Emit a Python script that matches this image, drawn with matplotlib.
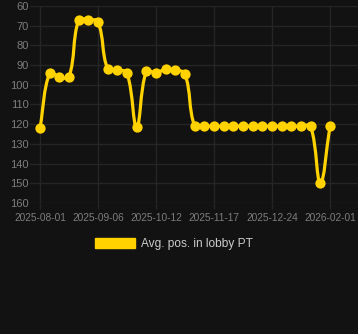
import numpy as np
import matplotlib
matplotlib.use("Agg")
import matplotlib.pyplot as plt
from matplotlib.path import Path
from matplotlib.patches import PathPatch, Patch

# ---- data ----
dates = ["2025-08-01", "2025-08-07", "2025-08-13", "2025-08-19", "2025-08-25", "2025-08-31",
         "2025-09-06", "2025-09-12", "2025-09-18", "2025-09-24", "2025-09-30", "2025-10-06",
         "2025-10-12", "2025-10-18", "2025-10-24", "2025-10-30", "2025-11-05", "2025-11-11",
         "2025-11-17", "2025-11-23", "2025-11-29", "2025-12-06", "2025-12-12", "2025-12-18",
         "2025-12-24", "2025-12-31", "2026-01-07", "2026-01-13", "2026-01-19", "2026-01-25",
         "2026-02-01"]
positions = [122, 94, 96, 96, 67, 67, 68, 92, 92.5, 94, 121.5, 93, 94, 92, 92.5, 94.5,
             121, 121, 121, 121, 121, 121, 121, 121, 121, 121, 121, 121, 121, 150, 121]
tick_idx = [0, 6, 12, 18, 24, 30]
series_label = "Avg. pos. in lobby PT"

BG = "#121212"
GRID = "#252525"
LINE = "#FFD200"
TICK = "#7d7d7d"

plt.rcParams['font.family'] = ['Liberation Sans', 'DejaVu Sans']

W, H = 358, 334
fig = plt.figure(figsize=(W / 100, H / 100), dpi=100, facecolor=BG)
# axes in pixel coordinates
left_px, right_px, top_px, bot_px = 30, 358, 6, 203
ax = fig.add_axes([left_px / W, (H - bot_px) / H, (right_px - left_px) / W, (bot_px - top_px) / H])
ax.set_facecolor(BG)

x = np.arange(len(positions), dtype=float)
y = np.array(positions, dtype=float)

px_per_idx = 290 / 30
ax.set_xlim(-(40 - left_px) / px_per_idx, (right_px - 40) / px_per_idx)
ax.set_ylim(160, 60)

# chart.js-like spline (tension 0.4) computed in pixel space
sx, sy = px_per_idx, 1.97
P = np.column_stack([x * sx, y * sy])
n = len(P)
t = 0.4
cprev = np.zeros_like(P)
cnext = np.zeros_like(P)
for i in range(n):
    prev = P[i - 1] if i > 0 else P[i]
    cur = P[i]
    nxt = P[i + 1] if i < n - 1 else P[i]
    d01 = np.hypot(*(cur - prev))
    d12 = np.hypot(*(nxt - cur))
    tot = d01 + d12
    s01 = d01 / tot if tot else 0
    s12 = d12 / tot if tot else 0
    cprev[i] = cur - t * s01 * (nxt - prev)
    cnext[i] = cur + t * s12 * (nxt - prev)
verts = [tuple(P[0])]
codes = [Path.MOVETO]
for i in range(n - 1):
    verts += [tuple(cnext[i]), tuple(cprev[i + 1]), tuple(P[i + 1])]
    codes += [Path.CURVE4] * 3
verts = np.array(verts)
verts[:, 0] /= sx
verts[:, 1] /= sy
ax.add_patch(PathPatch(Path(verts, codes), fill=False, edgecolor=LINE, linewidth=2.3,
                       capstyle='round', joinstyle='round', zorder=3))
ax.plot(x, y, linestyle='none', marker='o', markersize=7.4, color=LINE,
        markeredgewidth=0, zorder=4)

ax.set_yticks(np.arange(60, 161, 10))
ax.set_xticks(tick_idx)
ax.set_xticklabels([dates[i] for i in tick_idx])
ax.grid(True, color=GRID, linewidth=1)
ax.set_axisbelow(True)
for s in ax.spines.values():
    s.set_visible(False)
ax.tick_params(axis='y', length=0, pad=1, labelsize=8, labelcolor=TICK)
ax.tick_params(axis='x', length=4, width=1, color=GRID, pad=3, labelsize=7.3, labelcolor=TICK)

fig.legend(handles=[Patch(facecolor=LINE, edgecolor=LINE, label=series_label)],
           loc='center', bbox_to_anchor=(173.5 / W, 1 - 244 / H), frameon=False,
           fontsize=8.6, labelcolor='#cccccc', handlelength=3.4, handleheight=1.0,
           handletextpad=0.45, borderpad=0, borderaxespad=0)

fig.savefig("out.png", dpi=100, facecolor=BG)
